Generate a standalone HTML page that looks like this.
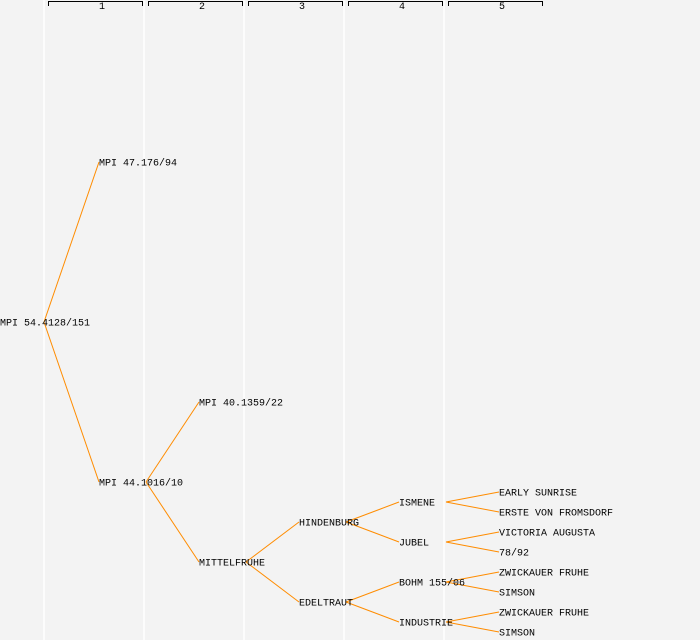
<!DOCTYPE html>
<html><head><meta charset="utf-8"><style>
html,body{margin:0;padding:0;background:#f3f3f3;}
svg{display:block;}
text{font-family:"Liberation Mono",monospace;font-size:10px;fill:#000;}
</style></head><body>
<svg width="700" height="640" viewBox="0 0 700 640" xmlns="http://www.w3.org/2000/svg">
<rect width="700" height="640" fill="#f3f3f3"/>
<g stroke="#fff" stroke-width="1.5">
<line x1="44" y1="0" x2="44" y2="640"/><line x1="144" y1="0" x2="144" y2="640"/>
<line x1="244" y1="0" x2="244" y2="640"/><line x1="344" y1="0" x2="344" y2="640"/>
<line x1="444" y1="0" x2="444" y2="640"/>
</g>
<g stroke="#000" stroke-width="1" fill="none">
<path d="M48.5 6V1.5H142.5V6"/><path d="M148.5 6V1.5H242.5V6"/><path d="M248.5 6V1.5H342.5V6"/>
<path d="M348.5 6V1.5H442.5V6"/><path d="M448.5 6V1.5H542.5V6"/>
</g>
<g style="font-size:8px" text-anchor="middle">
<text x="102" y="9">1</text><text x="202" y="9">2</text><text x="302" y="9">3</text><text x="402" y="9">4</text><text x="502" y="9">5</text>
</g>
<g stroke="#ff8c00" stroke-width="1" fill="none">
<line x1="44" y1="322" x2="99" y2="162"/><line x1="44" y1="322" x2="99" y2="482"/>
<line x1="146" y1="482" x2="199" y2="402"/><line x1="146" y1="482" x2="199" y2="562"/>
<line x1="246" y1="562" x2="299" y2="522"/><line x1="246" y1="562" x2="299" y2="602"/>
<line x1="346" y1="522" x2="399" y2="502"/><line x1="346" y1="522" x2="399" y2="542"/>
<line x1="346" y1="602" x2="399" y2="582"/><line x1="346" y1="602" x2="399" y2="622"/>
<line x1="446" y1="502" x2="499" y2="492"/><line x1="446" y1="502" x2="499" y2="512"/>
<line x1="446" y1="542" x2="499" y2="532"/><line x1="446" y1="542" x2="499" y2="552"/>
<line x1="446" y1="582" x2="499" y2="572"/><line x1="446" y1="582" x2="499" y2="592"/>
<line x1="446" y1="622" x2="499" y2="612"/><line x1="446" y1="622" x2="499" y2="632"/>
</g>
<g dominant-baseline="central" transform="translate(0,2)">
<text x="0" y="322">MPI 54.4128/151</text>
<text x="99" y="162">MPI 47.176/94</text>
<text x="99" y="482">MPI 44.1016/10</text>
<text x="199" y="402">MPI 40.1359/22</text>
<text x="199" y="562">MITTELFRUHE</text>
<text x="299" y="522">HINDENBURG</text>
<text x="299" y="602">EDELTRAUT</text>
<text x="399" y="502">ISMENE</text>
<text x="399" y="542">JUBEL</text>
<text x="399" y="582">BOHM 155/06</text>
<text x="399" y="622">INDUSTRIE</text>
<text x="499" y="492">EARLY SUNRISE</text>
<text x="499" y="512">ERSTE VON FROMSDORF</text>
<text x="499" y="532">VICTORIA AUGUSTA</text>
<text x="499" y="552">78/92</text>
<text x="499" y="572">ZWICKAUER FRUHE</text>
<text x="499" y="592">SIMSON</text>
<text x="499" y="612">ZWICKAUER FRUHE</text>
<text x="499" y="632">SIMSON</text>
</g>
</svg>
</body></html>
